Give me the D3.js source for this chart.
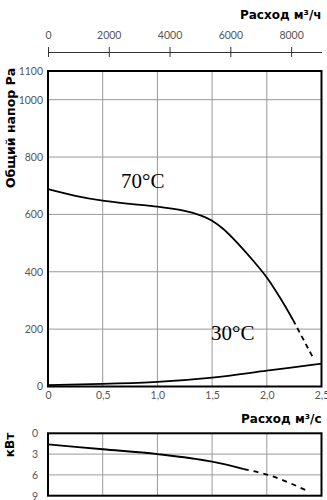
<!DOCTYPE html>
<html>
<head>
<meta charset="utf-8">
<script src="https://cdn.jsdelivr.net/npm/d3@7"></script>
<style>
  body { margin: 0; background: #fff; }
  svg { display: block; }
  .tick text { font-family: Lato, "Open Sans", sans-serif; font-size: 10.5px; fill: #555; }
  .title { font-family: "DejaVu Sans", sans-serif; font-weight: bold; fill: #000; }
  .lbl { font-family: "Liberation Serif", serif; font-size: 21px; fill: #000; }
</style>
</head>
<body>
<div id="chart"></div>
<script>
// flow in m3/s, pressure in Pa
const flow70 = [0, 0.25, 0.5, 0.75, 1.0, 1.25, 1.4, 1.5, 1.6, 1.7, 1.87, 2.0, 2.12, 2.24];
const pres70 = [688, 665, 648, 637, 627, 612, 596, 578, 550, 513, 441, 380, 310, 232];
const flow70Dash = [2.24, 2.43];
const pres70Dash = [232, 95];

const flow30 = [0, 0.5, 1.0, 1.5, 2.0, 2.5];
const pres30 = [5, 9, 16, 31, 55, 80];

const flowPow = [0, 0.5, 1.0, 1.5, 1.79];
const powKw = [1.6, 2.3, 3.0, 4.1, 5.15];
const flowPowDash = [1.79, 2.0, 2.37];
const powKwDash = [5.15, 5.95, 8.3];

const flowTicks = [0, 0.5, 1.0, 1.5, 2.0, 2.5];
const presTicks = [0, 200, 400, 600, 800, 1000, 1100];
const hourTicks = [0, 2000, 4000, 6000, 8000];
const kwTicks = [0, 3, 6, 9];

const W = 327, H = 500;
const left = 48, right = 321.5;

const svg = d3.select('#chart').append('svg')
  .attr('width', W)
  .attr('height', H);

const x = d3.scaleLinear().domain([0, 2.5]).range([left, right]);
const xHour = d3.scaleLinear().domain([0, 9000]).range([left, right]);
const y = d3.scaleLinear().domain([0, 1100]).range([386.5, 71]);
const yKw = d3.scaleLinear().domain([0, 9]).range([433.3, 495.7]);

const zip = (a, b) => a.map((v, i) => [v, b[i]]);
const intFmt = d3.format('d');

// top axis (m3/h)
svg.append('text')
  .attr('class', 'title')
  .attr('x', right)
  .attr('y', 19)
  .attr('text-anchor', 'end')
  .style('font-size', '12px')
  .text('Расход м³/ч');

const topAxis = svg.append('g')
  .attr('transform', 'translate(0,52)')
  .call(d3.axisTop(xHour).tickValues(hourTicks).tickFormat(intFmt).tickSize(5).tickSizeOuter(0));
topAxis.select('.domain').attr('stroke', '#333');
topAxis.selectAll('.tick line').attr('y1', 5).attr('y2', -5).attr('stroke', '#333');
topAxis.selectAll('.tick text').attr('y', -13);

// main grid
const grid = svg.append('g');
grid.selectAll('.hg')
  .data(presTicks.filter(d => d > 0 && d < 1100))
  .enter().append('line')
  .attr('x1', left).attr('x2', right)
  .attr('y1', d => y(d)).attr('y2', d => y(d))
  .attr('stroke', '#999').attr('stroke-width', 1);
grid.selectAll('.vg')
  .data(flowTicks.filter(d => d > 0 && d < 2.5))
  .enter().append('line')
  .attr('x1', d => x(d)).attr('x2', d => x(d))
  .attr('y1', y(1100)).attr('y2', y(0))
  .attr('stroke', '#999').attr('stroke-width', 1);

// axes labels main
const yAx = svg.append('g')
  .attr('transform', `translate(${left},0)`)
  .call(d3.axisLeft(y).tickValues(presTicks).tickFormat(intFmt).tickSize(0).tickPadding(5));
yAx.select('.domain').remove();

const commaFmt = d => d === 0 ? '0' : d3.format('.1f')(d).replace('.', ',');
const xAx = svg.append('g')
  .attr('transform', `translate(0,${y(0)})`)
  .call(d3.axisBottom(x).tickValues(flowTicks).tickFormat(commaFmt).tickSize(0).tickPadding(5));
xAx.select('.domain').remove();

// curves
const line = d3.line().x(d => x(d[0])).y(d => y(d[1])).curve(d3.curveCatmullRom.alpha(0.5));
svg.append('path').datum(zip(flow70, pres70))
  .attr('d', line).attr('fill', 'none').attr('stroke', '#000').attr('stroke-width', 1.8);
svg.append('path').datum(zip(flow70Dash, pres70Dash))
  .attr('d', d3.line().x(d => x(d[0])).y(d => y(d[1])))
  .attr('fill', 'none').attr('stroke', '#000').attr('stroke-width', 1.8)
  .attr('stroke-dasharray', '5,4');
svg.append('path').datum(zip(flow30, pres30))
  .attr('d', line).attr('fill', 'none').attr('stroke', '#000').attr('stroke-width', 1.8);

// frame
svg.append('rect')
  .attr('x', left).attr('y', y(1100))
  .attr('width', right - left).attr('height', y(0) - y(1100))
  .attr('fill', 'none').attr('stroke', '#000').attr('stroke-width', 2);

svg.append('text').attr('class', 'lbl').attr('x', 121).attr('y', 188).text('70°C');
svg.append('text').attr('class', 'lbl').attr('x', 211).attr('y', 340).text('30°C');

svg.append('text')
  .attr('class', 'title')
  .attr('transform', 'translate(15,128) rotate(-90)')
  .attr('text-anchor', 'middle')
  .style('font-size', '12.5px')
  .text('Общий напор Ра');

// power chart
svg.append('text')
  .attr('class', 'title')
  .attr('x', right)
  .attr('y', 423)
  .attr('text-anchor', 'end')
  .style('font-size', '12px')
  .text('Расход м³/с');

const pg = svg.append('g');
pg.selectAll('.hg')
  .data(kwTicks.filter(d => d > 0 && d < 9))
  .enter().append('line')
  .attr('x1', left).attr('x2', right)
  .attr('y1', d => yKw(d)).attr('y2', d => yKw(d))
  .attr('stroke', '#999');
pg.selectAll('.vg')
  .data(flowTicks.filter(d => d > 0 && d < 2.5))
  .enter().append('line')
  .attr('x1', d => x(d)).attr('x2', d => x(d))
  .attr('y1', yKw(0)).attr('y2', yKw(9))
  .attr('stroke', '#999');

const kwAx = svg.append('g')
  .attr('transform', `translate(${left},0)`)
  .call(d3.axisLeft(yKw).tickValues(kwTicks).tickSize(0).tickPadding(10));
kwAx.select('.domain').remove();

const lineKw = d3.line().x(d => x(d[0])).y(d => yKw(d[1])).curve(d3.curveMonotoneX);
svg.append('path').datum(zip(flowPow, powKw))
  .attr('d', lineKw).attr('fill', 'none').attr('stroke', '#000').attr('stroke-width', 1.8);
svg.append('path').datum(zip(flowPowDash, powKwDash))
  .attr('d', lineKw).attr('fill', 'none').attr('stroke', '#000').attr('stroke-width', 1.8)
  .attr('stroke-dasharray', '5,5');

svg.append('rect')
  .attr('x', left).attr('y', yKw(0))
  .attr('width', right - left).attr('height', yKw(9) - yKw(0))
  .attr('fill', 'none').attr('stroke', '#000').attr('stroke-width', 2);

svg.append('text')
  .attr('class', 'title')
  .attr('transform', 'translate(14,445) rotate(-90)')
  .attr('text-anchor', 'middle')
  .style('font-size', '12px')
  .text('кВт');
</script>
</body>
</html>
